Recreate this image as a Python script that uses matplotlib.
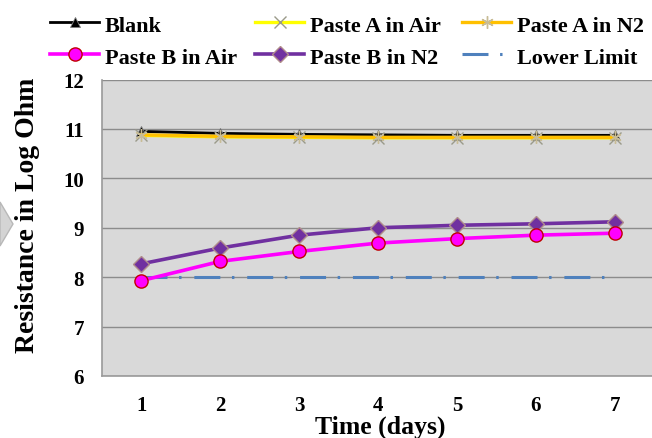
import matplotlib
matplotlib.use("Agg")
import matplotlib.pyplot as plt
from matplotlib.lines import Line2D
from matplotlib.patches import Polygon

# Measured resistance (log10 Ohm) over seven days
days = [1, 2, 3, 4, 5, 6, 7]
blank = [10.95, 10.91, 10.89, 10.88, 10.87, 10.87, 10.87]
paste_a_air = [10.87, 10.84, 10.83, 10.82, 10.82, 10.82, 10.82]
paste_a_n2 = [10.88, 10.85, 10.84, 10.83, 10.83, 10.83, 10.83]
paste_b_air = [7.93, 8.32, 8.52, 8.69, 8.78, 8.85, 8.89]
paste_b_n2 = [8.27, 8.59, 8.85, 9.00, 9.05, 9.08, 9.12]
lower_limit = [8, 8, 8, 8, 8, 8, 8]
y_ticks = [6, 7, 8, 9, 10, 11, 12]

W, H = 652, 439
fig = plt.figure(figsize=(W / 100, H / 100), dpi=100)
fig.patch.set_facecolor("white")

serif = ["Liberation Serif", "DejaVu Serif"]

def px_box(x0, y0, x1, y1):
    return [x0 / W, 1 - y1 / H, (x1 - x0) / W, (y1 - y0) / H]

def fx(x):
    return x / W

def fy(y):
    return 1 - y / H

ax = fig.add_axes(px_box(102, 80.5, 654, 377))
ax.set_facecolor("#d9d9d9")

grid_c = "#8c8c8c"
for v in y_ticks:
    ax.axhline(v, color=grid_c, lw=1.0, zorder=1)

styles = {
    "Blank": dict(color="black", lw=2.0, marker="^", ms=7.5, mfc="black",
                  mec="#7f7f7f", mew=0.6),
    "Paste A in Air": dict(color="#ffff00", lw=2.4, marker="x", ms=8,
                           mec="#9a9a8a", mew=1.0),
    "Paste A in N2": dict(color="#ffc000", lw=2.4, marker=(6, 2, 0), ms=9,
                          mec="#c8bc96", mew=1.0),
    "Paste B in Air": dict(color="#ff00ff", lw=2.6, marker="o", ms=9.5,
                           mfc="#ff00ff", mec="#c00000", mew=1.0),
    "Paste B in N2": dict(color="#7030a0", lw=2.6, marker="D", ms=8,
                          mfc="#7030a0", mec="#b08c8c", mew=1.0),
    "Lower Limit": dict(color="#4f81bd", lw=2.2,
                        dashes=(8.5, 3.8, 0.8, 4.2)),
}

ax.plot(days, blank, zorder=3, **styles["Blank"])
ax.plot(days, paste_a_air, zorder=3, **styles["Paste A in Air"])
ax.plot(days, paste_a_n2, zorder=4, **styles["Paste A in N2"])
ax.plot(days, lower_limit, zorder=2, **styles["Lower Limit"])
ax.plot(days, paste_b_n2, zorder=5, **styles["Paste B in N2"])
ax.plot(days, paste_b_air, zorder=6, **styles["Paste B in Air"])

ax.set_xlim(0.5, 7.5)
ax.set_ylim(6, 12)
ax.set_xticks(days)
ax.set_yticks(y_ticks)
ax.tick_params(length=0)
ax.tick_params(axis="y", pad=13)
ax.tick_params(axis="x", pad=14)
for lab in ax.get_xticklabels() + ax.get_yticklabels():
    lab.set_fontfamily(serif)
    lab.set_fontweight("bold")
    lab.set_fontsize(15)

for side in ["top", "right"]:
    ax.spines[side].set_visible(False)
for side in ["left", "bottom"]:
    ax.spines[side].set_color("#9a9a9a")
    ax.spines[side].set_linewidth(1.2)

fig.text(fx(380), fy(427), "Time (days)", ha="center", va="center",
         fontfamily=serif, fontweight="bold", fontsize=18.5)
fig.text(fx(28), fy(215), "Resistance in Log Ohm", ha="center",
         va="center", rotation=90, fontfamily=serif, fontweight="bold",
         fontsize=20)

# Legend laid out in two rows of three entries
legend_rows = [["Blank", "Paste A in Air", "Paste A in N2"],
               ["Paste B in Air", "Paste B in N2", "Lower Limit"]]
col_x = [50, 255, 462]
handle_len = 49
row_y = [23, 55]
for r, row in enumerate(legend_rows):
    for c, name in enumerate(row):
        st = dict(styles[name])
        x0 = col_x[c]
        y = row_y[r]
        line_kw = {k: v for k, v in st.items()
                   if k not in ("marker", "ms", "mfc", "mec", "mew")}
        fig.add_artist(Line2D([fx(x0), fx(x0 + handle_len)], [fy(y), fy(y)],
                              transform=fig.transFigure, **line_kw))
        if "marker" in st:
            fig.add_artist(Line2D([fx(x0 + handle_len / 2)], [fy(y)],
                                  transform=fig.transFigure, linestyle="none",
                                  marker=st["marker"], ms=st["ms"],
                                  mfc=st.get("mfc", st["color"]),
                                  mec=st["mec"], mew=st["mew"]))
        fig.text(fx(x0 + handle_len + 6), fy(y + 8.5), name, ha="left",
                 va="baseline", fontfamily=serif, fontweight="bold",
                 fontsize=16)

# Partial gray arrow shape at the left edge
arrow = Polygon([[0, fy(203)], [fx(13), fy(225)], [0, fy(247)]],
                closed=True, transform=fig.transFigure, facecolor="#d4d4d4",
                edgecolor="#b8b8b8", lw=1.0)
fig.patches.append(arrow)

fig.savefig("out.png", dpi=100, facecolor="white")
